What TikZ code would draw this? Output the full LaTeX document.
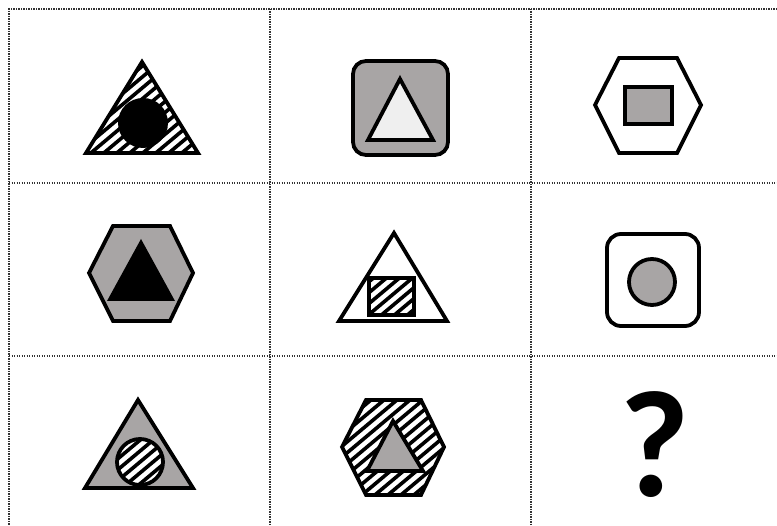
\documentclass[tikz,border=0pt]{standalone}
\usepackage{fontspec}
\newfontfamily\qfont{Carlito}
\definecolor{shgray}{HTML}{A8A5A5}
\definecolor{shlight}{HTML}{EFEFEF}
\tikzset{
  gridline/.style={line width=1.8pt, dash pattern=on 1.4pt off 1.1pt, draw=black!80},
  figline/.style={line width=3.8pt, line join=miter, draw=black},
  hatchline/.style={line width=3.6pt, draw=black},
}
\newcommand\myhatch[2]{%
  \foreach \i in {-169,-156,...,169}{\draw[hatchline] ({#1+\i-100},{#2+84}) -- ({#1+\i+100},{#2-84});}}
\begin{document}
\begin{tikzpicture}[x=1pt,y=-1pt]
\useasboundingbox (0,0) rectangle (777,526);
\fill[white] (0,0) rectangle (777,526);
% grid
\draw[gridline] (777,9) -- (9,9) -- (9,526);
\draw[gridline] (9,183) -- (777,183);
\draw[gridline] (9,356) -- (777,356);
\draw[gridline] (270,9) -- (270,526);
\draw[gridline] (531,9) -- (531,526);

% cell 1,1 : hatched triangle with black circle
\begin{scope}
  \clip (142,62) -- (86,153) -- (198,153) -- cycle;
  \myhatch{142}{110}
\end{scope}
\fill[black] (143,123) circle (25);
\draw[figline] (142,62) -- (86,153) -- (198,153) -- cycle;

% cell 1,2 : gray rounded square with light triangle
\draw[figline, fill=shgray, rounded corners=13pt] (353,61) rectangle (448,155);
\draw[figline, fill=shlight] (400,79) -- (368,140) -- (433,140) -- cycle;

% cell 1,3 : hexagon with gray rectangle
\draw[figline, fill=white] (595,105) -- (619,58) -- (677,58) -- (701,105) -- (677,153) -- (619,153) -- cycle;
\draw[figline, fill=shgray] (625,87) rectangle (672,124);

% cell 2,1 : gray hexagon with black triangle
\draw[figline, fill=shgray] (89,273) -- (113,226) -- (170,226) -- (193,273) -- (170,321) -- (113,321) -- cycle;
\fill[black] (141,239) -- (107,301) -- (175,301) -- cycle;

% cell 2,2 : white triangle with hatched rectangle
\draw[figline, fill=white] (394,233) -- (339,321) -- (447,321) -- cycle;
\begin{scope}
  \clip (369,278) rectangle (414,315);
  \myhatch{391}{296}
\end{scope}
\draw[figline] (369,278) rectangle (414,315);

% cell 2,3 : white rounded square with gray circle
\draw[figline, fill=white, rounded corners=14pt] (607,234) rectangle (699,326);
\draw[figline, fill=shgray] (652,282) circle (23);

% cell 3,1 : gray triangle with hatched circle
\draw[figline, fill=shgray] (138,400) -- (85,488) -- (193,488) -- cycle;
\fill[white] (140,462) circle (23);
\begin{scope}
  \clip (140,462) circle (23);
  \myhatch{140}{462}
\end{scope}
\draw[figline] (140,462) circle (23);

% cell 3,2 : hatched hexagon with gray triangle
\begin{scope}
  \clip (342,447) -- (366,400) -- (421,400) -- (444,447) -- (421,495) -- (366,495) -- cycle;
  \myhatch{393}{447}
\end{scope}
\draw[figline] (342,447) -- (366,400) -- (421,400) -- (444,447) -- (421,495) -- (366,495) -- cycle;
\draw[figline, fill=shgray] (393,421) -- (367,471) -- (423,471) -- cycle;

% cell 3,3 : question mark
\node[anchor=base, inner sep=0pt, font=\qfont\bfseries\fontsize{152}{152}\selectfont] (q) at (655,497) {?};
\end{tikzpicture}
\end{document}
